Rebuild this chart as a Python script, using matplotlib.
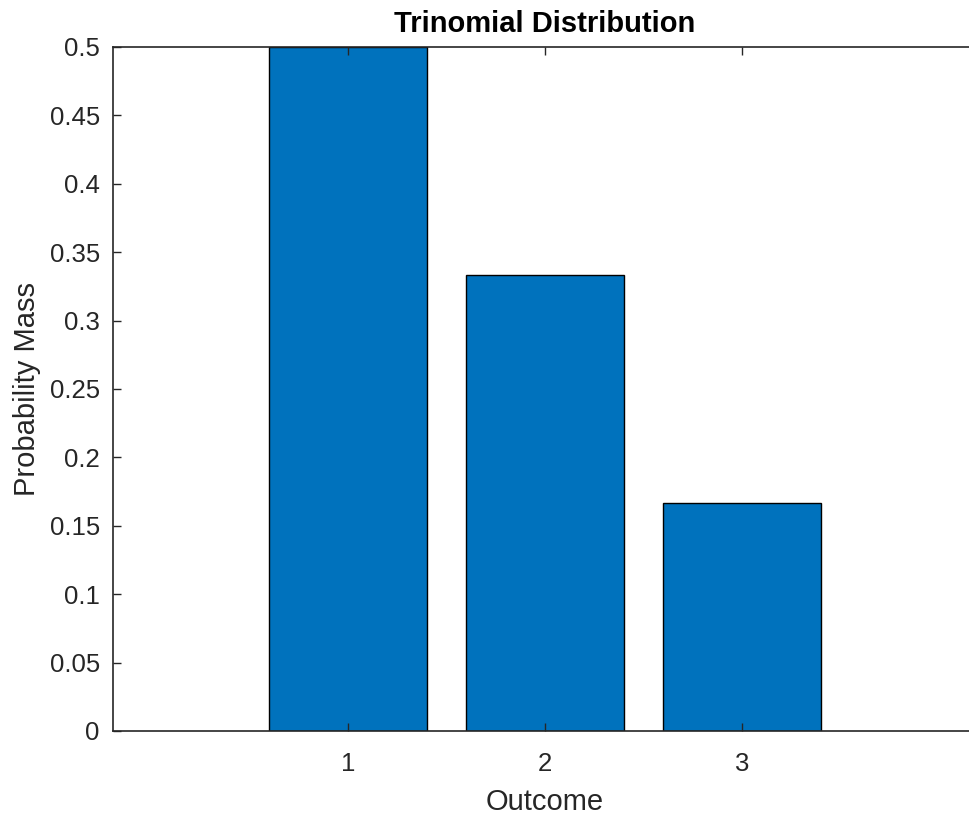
import numpy as np
import matplotlib.pyplot as plt

# Data
outcomes = [1, 2, 3]
prob_mass = [0.5, 1/3, 1/6]
yticks = [0, 0.05, 0.1, 0.15, 0.2, 0.25, 0.3, 0.35, 0.4, 0.45, 0.5]
ytick_labels = ['0', '0.05', '0.1', '0.15', '0.2', '0.25', '0.3', '0.35', '0.4', '0.45', '0.5']

plt.rcParams['font.family'] = ['Liberation Sans', 'DejaVu Sans']
grey = '#262626'

fig = plt.figure(figsize=(9.7, 8.15), dpi=100)
ax = fig.add_axes([113/970, 84/815, 864/970, 684/815])

ax.bar(outcomes, prob_mass, width=0.8, color='#0072BD', edgecolor='black', linewidth=1.0)

ax.set_xlim(-0.19, 4.19)
ax.set_ylim(0, 0.5)
ax.set_xticks(outcomes)
ax.set_yticks(yticks)
ax.set_yticklabels(ytick_labels)

ax.tick_params(direction='in', length=6, width=1, colors=grey, labelsize=18.5,
               top=True, right=True)
ax.tick_params(axis='y', pad=9.5)
ax.tick_params(axis='x', pad=15)
for sp in ax.spines.values():
    sp.set_color(grey)
    sp.set_linewidth(1.2)

ax.set_xlabel('Outcome', fontsize=21, color=grey, labelpad=9)
ax.set_ylabel('Probability Mass', fontsize=21, color=grey, labelpad=6)
ax.set_title('Trinomial Distribution', fontsize=21, fontweight='bold', pad=10.5)

fig.savefig('out.png', dpi=100)
